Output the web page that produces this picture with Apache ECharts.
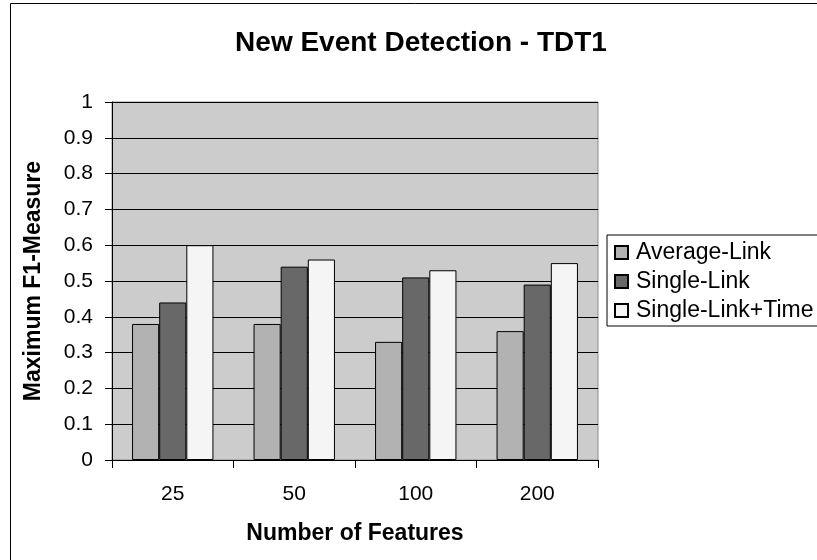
<!DOCTYPE html>
<html>
<head>
<meta charset="utf-8">
<script src="https://cdn.jsdelivr.net/npm/echarts@6/dist/echarts.min.js"></script>
<style>
  html, body { margin: 0; padding: 0; background: #fff; }
  #chart { width: 817px; height: 560px; }
</style>
</head>
<body>
<div id="chart"></div>
<script>
  // 数据
  var categories = ['25', '50', '100', '200'];
  var averageLink = [0.38, 0.38, 0.33, 0.36];
  var singleLink = [0.44, 0.54, 0.51, 0.49];
  var singleLinkTime = [0.60, 0.56, 0.53, 0.55];

  var font = '"Liberation Sans", Arial, sans-serif';

  var myChart = echarts.init(document.getElementById('chart'));

  function bar(name, data, color) {
    return {
      name: name,
      type: 'bar',
      data: data,
      barGap: '0%',
      barCategoryGap: '33%',
      itemStyle: {
        color: color,
        borderColor: '#000',
        borderWidth: 1
      }
    };
  }

  var option = {
    backgroundColor: '#fff',
    animation: false,
    textStyle: { fontFamily: font, color: '#000' },
    title: {
      text: 'New Event Detection - TDT1',
      left: 416,
      textAlign: 'center',
      top: 24,
      textStyle: { fontFamily: font, fontSize: 28, fontWeight: 'bold', color: '#000' }
    },
    graphic: [{
      type: 'rect',
      shape: { x: 10.5, y: 3.5, width: 830, height: 600 },
      style: { fill: null, stroke: '#000', lineWidth: 1 },
      z: -1
    }],
    legend: {
      orient: 'vertical',
      left: 607,
      top: 235,
      itemWidth: 13,
      itemHeight: 13,
      itemGap: 6,
      padding: [6, 40, 4, 7],
      borderColor: '#000',
      borderWidth: 1,
      icon: 'rect',
      textStyle: { fontFamily: font, fontSize: 23, lineHeight: 23, color: '#000', padding: [0, 0, 0, 3] },
      data: ['Average-Link', 'Single-Link', 'Single-Link+Time']
    },
    grid: {
      left: 112,
      right: 219,
      top: 102,
      bottom: 100,
      show: true,
      backgroundColor: '#cccccc',
      borderColor: '#8c8c8c',
      borderWidth: 1
    },
    xAxis: {
      type: 'category',
      data: categories,
      name: 'Number of Features',
      nameLocation: 'middle',
      nameGap: 62,
      nameTextStyle: { fontFamily: font, fontSize: 23, fontWeight: 'bold', color: '#000' },
      axisLine: { lineStyle: { color: '#000', width: 1 } },
      axisTick: { show: true, length: 8, alignWithLabel: false, lineStyle: { color: '#000' } },
      axisLabel: { fontFamily: font, fontSize: 21, color: '#000', margin: 24 }
    },
    yAxis: {
      type: 'value',
      min: 0,
      max: 1,
      interval: 0.1,
      name: 'Maximum F1-Measure',
      nameLocation: 'middle',
      nameGap: 67,
      nameTextStyle: { fontFamily: font, fontSize: 23, fontWeight: 'bold', color: '#000' },
      axisLine: { show: true, lineStyle: { color: '#000', width: 1 } },
      axisTick: { show: true, length: 7, lineStyle: { color: '#000' } },
      axisLabel: { fontFamily: font, fontSize: 21, color: '#000', margin: 19 },
      splitLine: { show: true, lineStyle: { color: '#000', width: 1 } }
    },
    series: [
      bar('Average-Link', averageLink, '#b2b2b2'),
      bar('Single-Link', singleLink, '#686868'),
      bar('Single-Link+Time', singleLinkTime, '#f5f5f5')
    ]
  };

  myChart.setOption(option);
</script>
</body>
</html>
